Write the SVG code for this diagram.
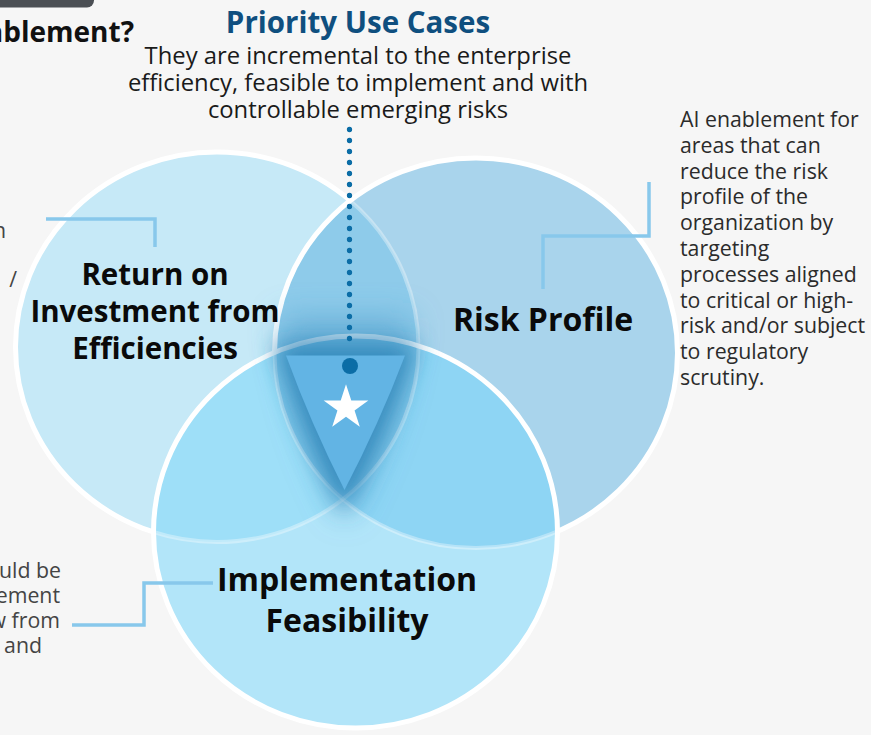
<svg xmlns="http://www.w3.org/2000/svg" width="871" height="735" viewBox="0 0 871 735">
  <style>
    .lbl { font-family: "Open Sans", "Noto Sans", sans-serif; font-weight: 700; font-size: 29.5px; fill: #0a0a0a; text-anchor: middle; }
    .lbl-lg { font-size: 32px; }
    .body { font-family: "Open Sans", "Noto Sans", sans-serif; font-size: 21.3px; fill: #2b2b2b; }
    .side { font-family: "Open Sans", "Noto Sans", sans-serif; font-size: 21.3px; fill: #444444; text-anchor: end; }
    .desc { font-family: "Open Sans", "Noto Sans", sans-serif; font-size: 23.8px; fill: #1a1a1a; text-anchor: middle; }
    .title { font-family: "Open Sans", "Noto Sans", sans-serif; font-weight: 700; font-size: 29.5px; fill: #0f4f7f; text-anchor: middle; }
    .edge { fill: none; stroke: #ffffff; stroke-width: 5; }
    .faint { fill: none; stroke: #ffffff; stroke-width: 4; stroke-opacity: 0.35; }
    .conn { fill: none; stroke: #88c8eb; stroke-width: 3.5; stroke-linejoin: miter; }
  </style>
  <defs>
    <clipPath id="clipL"><ellipse cx="217" cy="347" rx="201.5" ry="195"/></clipPath>
    <clipPath id="clipR"><ellipse cx="476" cy="353" rx="201.5" ry="195"/></clipPath>
    <clipPath id="clipB"><ellipse cx="355.5" cy="532" rx="202" ry="196"/></clipPath>
    <filter id="blur" x="-50%" y="-50%" width="200%" height="200%">
      <feGaussianBlur stdDeviation="11"/>
    </filter>
    <filter id="blur2" x="-50%" y="-50%" width="200%" height="200%">
      <feGaussianBlur stdDeviation="16"/>
    </filter>
  </defs>

  <rect x="0" y="0" width="871" height="735" fill="#f6f6f6"/>
  <rect x="-10" y="-10" width="104" height="17.5" rx="7" fill="#4b4f54"/>
  <text x="134" y="42" style="font-family: 'Open Sans', 'Noto Sans', sans-serif; font-weight: 700; font-size: 28px; fill: #111111; text-anchor: end;">ablement?</text>

  <!-- Left circle: Return on Investment -->
  <g id="node-roi">
    <ellipse cx="217" cy="347" rx="201.5" ry="195" fill="#c6e9f7"/>
    <ellipse class="edge" cx="217" cy="347" rx="201.5" ry="195"/>
  </g>

  <!-- Right circle: Risk Profile -->
  <g id="node-risk">
    <ellipse cx="476" cy="353" rx="201.5" ry="195" fill="#a9d4ec"/>
    <g clip-path="url(#clipL)">
      <ellipse cx="476" cy="353" rx="201.5" ry="195" fill="#8ecbea"/>
    </g>
    <g clip-path="url(#clipR)">
      <ellipse class="faint" cx="217" cy="347" rx="201.5" ry="195"/>
    </g>
    <ellipse class="edge" cx="476" cy="353" rx="201.5" ry="195"/>
  </g>

  <!-- Bottom circle: Implementation Feasibility -->
  <g id="node-feasibility">
    <ellipse cx="355.5" cy="532" rx="202" ry="196" fill="#b2e5f9"/>
    <g clip-path="url(#clipL)">
      <ellipse cx="355.5" cy="532" rx="202" ry="196" fill="#9edff8"/>
    </g>
    <g clip-path="url(#clipR)">
      <ellipse cx="355.5" cy="532" rx="202" ry="196" fill="#8ed5f4"/>
    </g>
    <g clip-path="url(#clipL)">
      <g clip-path="url(#clipR)">
        <ellipse cx="355.5" cy="532" rx="202" ry="196" fill="#80c8ea"/>
      </g>
    </g>
    <g clip-path="url(#clipB)">
      <ellipse class="faint" cx="217" cy="347" rx="201.5" ry="195"/>
      <ellipse class="faint" cx="476" cy="353" rx="201.5" ry="195"/>
    </g>
    <ellipse class="edge" cx="355.5" cy="532" rx="202" ry="196"/>
  </g>

  <!-- Center: Priority Use Cases -->
  <g id="node-priority">
    <path d="M280,318 L412,318 Q400,420 345,520 Q292,420 280,318 Z" fill="#3a8fc0" fill-opacity="0.45" filter="url(#blur2)"/>
    <path d="M274,344 L417,344 Q388,432 344,512 Q302,432 274,344 Z" fill="#2a82b6" fill-opacity="0.8" filter="url(#blur)"/>
    <path d="M286,355.5 L405,355.5 Q379,424 344.5,490 Q311,424 286,355.5 Z" fill="#62b4e4"/>
    <polygon points="346,384.3 351.29,400.52 368.35,400.54 354.56,410.58 359.81,426.81 346,416.8 332.19,426.81 337.44,410.58 323.65,400.54 340.71,400.52" fill="#ffffff"/>
    <text class="title" x="358" y="33">Priority Use Cases</text>
    <text class="desc" x="358" y="64">They are incremental to the enterprise</text>
    <text class="desc" x="358" y="91">efficiency, feasible to implement and with</text>
    <text class="desc" x="358" y="118">controllable emerging risks</text>
  </g>

  <!-- Connectors -->
  <g id="connectors">
    <line x1="349.5" y1="129.5" x2="349.5" y2="349.5" stroke="#0b6da6" stroke-width="5.3" stroke-linecap="round" stroke-dasharray="0 11"/>
    <circle cx="350" cy="366" r="8" fill="#0b6da6"/>
    <path class="conn" d="M46,219 H155 V247"/>
    <path class="conn" d="M649,182 V236 H543 V289"/>
    <path class="conn" d="M72,625 H144 V583 H213"/>
  </g>

  <!-- Circle labels -->
  <g id="labels">
    <text class="lbl" x="155" y="285">Return on</text>
    <text class="lbl" x="155" y="322">Investment from</text>
    <text class="lbl" x="155" y="359">Efficiencies</text>
    <text class="lbl lbl-lg" x="543" y="331">Risk Profile</text>
    <text class="lbl lbl-lg" x="347" y="591">Implementation</text>
    <text class="lbl lbl-lg" x="347" y="632">Feasibility</text>
  </g>

  <!-- Side descriptions -->
  <g id="desc-risk" class="body">
    <text x="680" y="127">AI enablement for</text>
    <text x="680" y="152.8">areas that can</text>
    <text x="680" y="178.6">reduce the risk</text>
    <text x="680" y="204.4">profile of the</text>
    <text x="680" y="230.2">organization by</text>
    <text x="680" y="256">targeting</text>
    <text x="680" y="281.8">processes aligned</text>
    <text x="680" y="307.6">to critical or high-</text>
    <text x="680" y="333.4">risk and/or subject</text>
    <text x="680" y="359.2">to regulatory</text>
    <text x="680" y="385">scrutiny.</text>
  </g>
  <g id="desc-roi">
    <text class="side" x="6" y="238">n</text>
    <text class="side" x="17" y="287">/</text>
  </g>
  <g id="desc-feasibility">
    <text class="side" x="61" y="578">uld be</text>
    <text class="side" x="60" y="603">ement</text>
    <text class="side" x="60" y="628">w from</text>
    <text class="side" x="42" y="653">and</text>
  </g>
</svg>
